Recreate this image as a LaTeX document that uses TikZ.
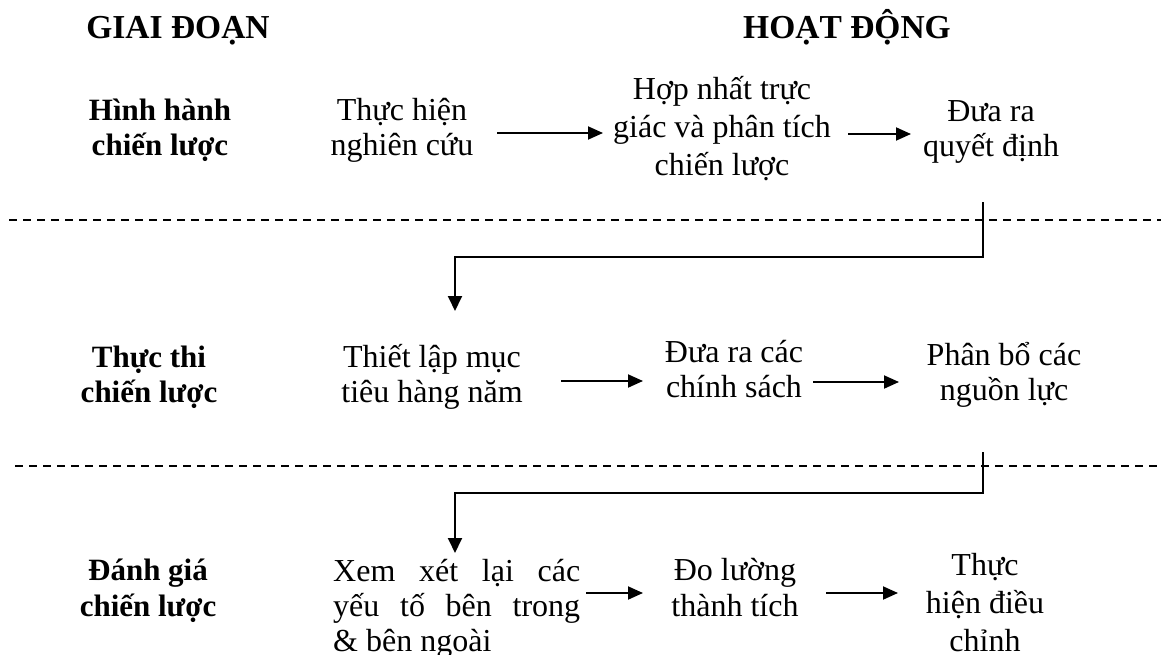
\documentclass[tikz,border=0pt]{standalone}
\usepackage{fontspec}
\setmainfont{Liberation Serif}
\usetikzlibrary{arrows.meta}
\begin{document}
\begin{tikzpicture}[x=1pt,y=-1pt,
  head/.style={font=\bfseries\fontsize{33.5}{38}\selectfont, anchor=base, inner sep=0pt},
  stage/.style={font=\bfseries\fontsize{31}{35}\selectfont, align=center, anchor=base, inner sep=0pt},
  act/.style={font=\fontsize{32}{35}\selectfont, align=center, anchor=base, inner sep=0pt},
  arr/.style={line width=1.9pt, -{Triangle[length=15pt,width=13pt]}},
  conn/.style={line width=1.9pt},
  sep/.style={line width=1.4pt, dash pattern=on 8pt off 6pt},
]
\useasboundingbox (0,0) rectangle (1161,655);

% headers
\node[head] (h1) at (178,39) {GIAI ĐOẠN};
\node[head] (h2) at (847,39) {HOẠT ĐỘNG};

% row 1 (base = baseline of last line)
\node[stage] (s1) at (160,156) {Hình hành\\chiến lược};
\node[act] (a11) at (402,156) {Thực hiện\\nghiên cứu};
\node[act, font=\fontsize{32}{38}\selectfont] (a12) at (722,176) {Hợp nhất trực\\giác và phân tích\\chiến lược};
\node[act] (a13) at (991,157) {Đưa ra\\quyết định};

% row 2
\node[stage] (s2) at (149,402) {Thực thi\\chiến lược};
\node[act] (a21) at (432,402) {Thiết lập mục\\tiêu hàng năm};
\node[act] (a22) at (734,397) {Đưa ra các\\chính sách};
\node[act] (a23) at (1004,400) {Phân bổ các\\nguồn lực};

% row 3
\node[stage, font=\bfseries\fontsize{31}{36}\selectfont] (s3) at (148,616) {Đánh giá\\chiến lược};
\node[act, anchor=base west, text width=247pt, align=justify, font=\fontsize{32}{35}\selectfont] (a31) at (333,581) {Xem xét lại các\linebreak yếu tố bên trong\linebreak \& bên ngoài};
\node[act, font=\fontsize{32}{36}\selectfont] (a32) at (735,616) {Đo lường\\thành tích};
\node[act, font=\fontsize{32}{38}\selectfont] (a33) at (985,651) {Thực\\hiện điều\\chỉnh};

% arrow end points
\coordinate (p1a) at (497,133); \coordinate (p1b) at (603,133);
\coordinate (p2a) at (848,134); \coordinate (p2b) at (911,134);
\coordinate (p3a) at (561,381); \coordinate (p3b) at (643,381);
\coordinate (p4a) at (813,382); \coordinate (p4b) at (899,382);
\coordinate (p5a) at (586,593); \coordinate (p5b) at (643,593);
\coordinate (p6a) at (826,593); \coordinate (p6b) at (898,593);

\draw[arr] (p1a) -- (p1b);
\draw[arr] (p2a) -- (p2b);
\draw[arr] (p3a) -- (p3b);
\draw[arr] (p4a) -- (p4b);
\draw[arr] (p5a) -- (p5b);
\draw[arr] (p6a) -- (p6b);

% dashed separators
\coordinate (d1l) at (9,220); \coordinate (d1r) at (1161,220);
\coordinate (d2l) at (15,466); \coordinate (d2r) at (1161,466);
\draw[sep] (d1l) -- (d1r);
\draw[sep] (d2l) -- (d2r);

% stage transitions
\coordinate (c1s) at (983,202); \coordinate (c1e) at (455,311);
\coordinate (c2s) at (983,452); \coordinate (c2e) at (455,553);
\draw[conn, -{Triangle[length=15pt,width=14pt]}] (c1s) -- ++(0,55) -| (c1e);
\draw[conn, -{Triangle[length=15pt,width=14pt]}] (c2s) -- ++(0,41) -| (c2e);
\end{tikzpicture}
\end{document}
